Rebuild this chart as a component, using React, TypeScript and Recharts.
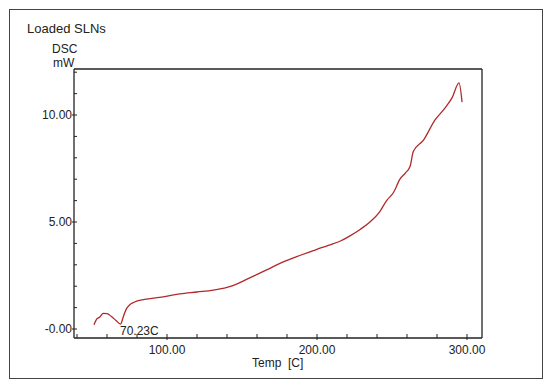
import React from "react";
import { LineChart, Line, XAxis, YAxis, ReferenceLine } from "recharts";

// DSC trace
const temps = [51.3, 53, 55, 57.5, 60, 63, 66, 69, 71, 73, 75, 78, 85, 95, 108.7, 120, 131, 140, 146.4, 153, 160, 166.4, 175.3, 186.4, 197.5, 203, 208.7, 215.3, 222, 228.7, 235.3, 242, 246.4, 251, 255.3, 259, 262, 264.2, 271, 278.7, 285, 290, 294.7, 296.7];
const dsc = [0.2, 0.45, 0.55, 0.73, 0.72, 0.58, 0.4, 0.23, 0.6, 0.95, 1.12, 1.25, 1.38, 1.48, 1.64, 1.73, 1.82, 1.95, 2.1, 2.32, 2.55, 2.76, 3.07, 3.38, 3.66, 3.8, 3.93, 4.1, 4.35, 4.65, 5.0, 5.5, 6.0, 6.38, 7.0, 7.3, 7.59, 8.29, 8.83, 9.77, 10.3, 10.8, 11.5, 10.6];

const xTicks = [40, 60, 80, 100, 120, 140, 160, 180, 200, 220, 240, 260, 280, 300];
const xLabels = [100, 200, 300];
const yTicks = [0, 1, 2, 3, 4, 5, 6, 7, 8, 9, 10, 11, 12];
const yLabels: Record<number, string> = { 0: "-0.00", 5: "5.00", 10: "10.00" };

const data = temps.map((t, i) => ({ t, v: dsc[i] }));

const font = "'Liberation Sans', Arial, sans-serif";
const ink = "#222";

function XTick({ x, y, payload }: any) {
  const major = xLabels.includes(payload.value);
  return (
    <g>
      <line x1={x} x2={x} y1={major ? y + 2 : y} y2={y - 4} stroke={ink} strokeWidth={1} />
      {major && (
        <text x={x} y={y + 16} textAnchor="middle" fontSize={12} fill={ink} fontFamily={font}>
          {payload.value.toFixed(2)}
        </text>
      )}
    </g>
  );
}

function YTick({ x, y, payload }: any) {
  const label = yLabels[payload.value];
  return (
    <g>
      <line x1={label ? x - 2 : x} x2={x + 3} y1={y} y2={y} stroke={ink} strokeWidth={1} />
      {label && (
        <text x={x - 2} y={y + 4} textAnchor="end" fontSize={12} fill={ink} fontFamily={font}>
          {label}
        </text>
      )}
    </g>
  );
}

const txt = (left: number, top: number, size = 12): React.CSSProperties => ({
  position: "absolute",
  left,
  top,
  fontSize: size,
  fontFamily: font,
  color: ink,
  lineHeight: 1,
  whiteSpace: "nowrap",
});

export default function App() {
  return (
    <div style={{ position: "absolute", left: 0, top: 0, width: 553, height: 390, background: "#fff" }}>
      <div
        style={{
          position: "absolute",
          left: 9,
          top: 9,
          width: 534,
          height: 370,
          border: "1.5px solid #444",
          boxSizing: "border-box",
        }}
      />
      <LineChart
        width={553}
        height={390}
        data={data}
        margin={{ top: 69, right: 71, bottom: 22, left: 14 }}
        style={{ position: "absolute", left: 0, top: 0 }}
      >
        <XAxis
          dataKey="t"
          type="number"
          domain={[38, 310]}
          ticks={xTicks}
          interval={0}
          allowDataOverflow
          height={30}
          tickSize={0}
          tickMargin={0}
          tickLine={false}
          tick={<XTick />}
          stroke={ink}
          strokeWidth={1.3}
        />
        <YAxis
          type="number"
          domain={[-0.42, 12.15]}
          ticks={yTicks}
          interval={0}
          allowDataOverflow
          width={60}
          tickSize={0}
          tickMargin={0}
          tickLine={false}
          tick={<YTick />}
          stroke={ink}
          strokeWidth={1.3}
        />
        <ReferenceLine y={12.15} stroke={ink} strokeWidth={1.3} />
        <ReferenceLine x={310} stroke={ink} strokeWidth={1.3} />
        <Line
          dataKey="v"
          type="monotone"
          stroke="#b02a2a"
          strokeWidth={1.3}
          dot={false}
          isAnimationActive={false}
        />
      </LineChart>
      <div style={txt(27, 22, 13)}>Loaded SLNs</div>
      <div style={txt(52, 43)}>DSC</div>
      <div style={txt(53, 57)}>mW</div>
      <div style={txt(120, 325)}>70.23C</div>
      <div style={txt(252, 357)}>Temp&nbsp;&nbsp;[C]</div>
    </div>
  );
}
